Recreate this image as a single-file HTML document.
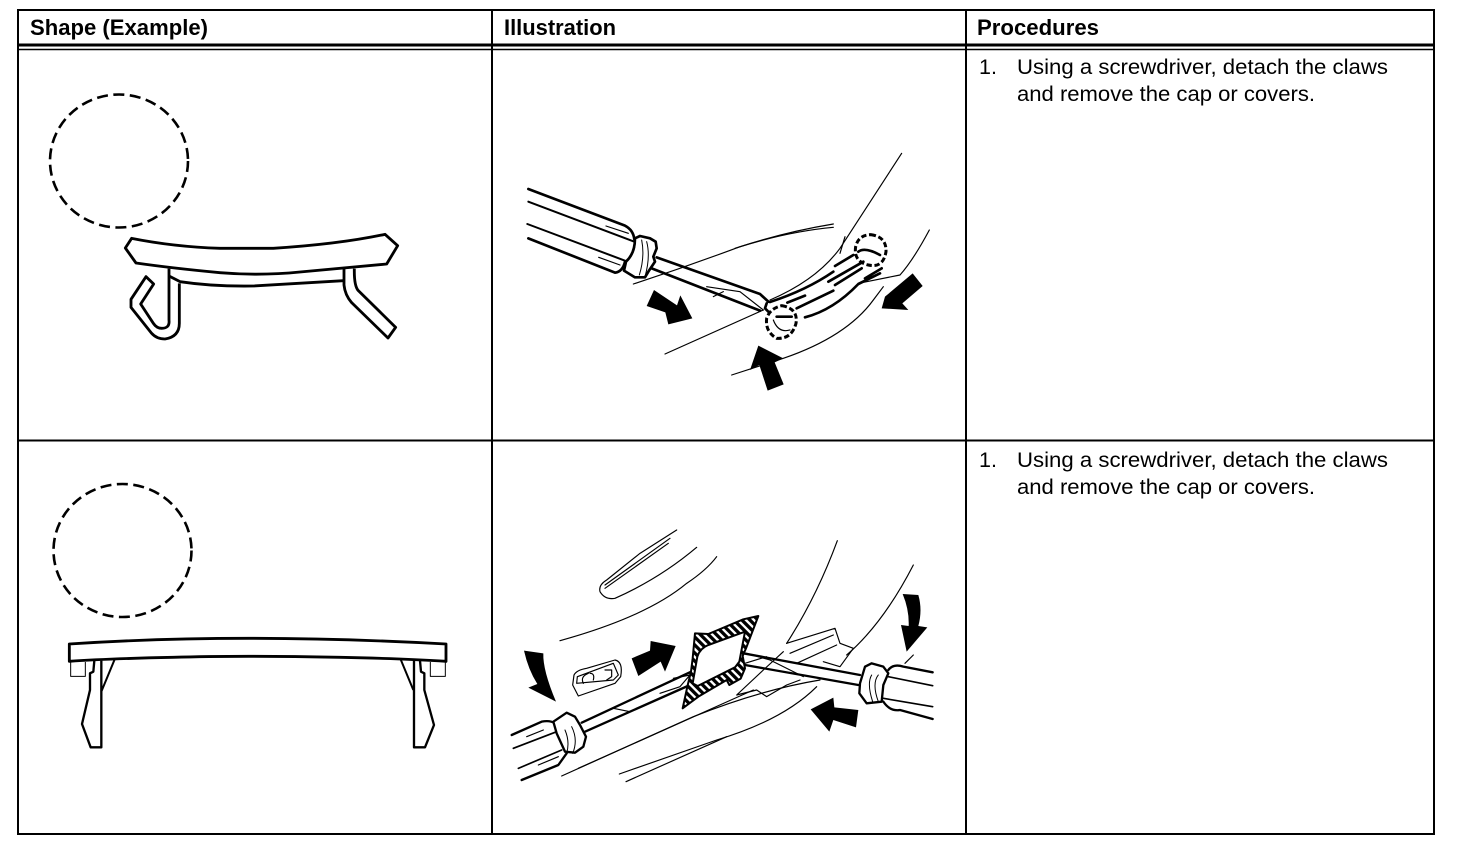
<!DOCTYPE html>
<html><head><meta charset="utf-8"><style>
html,body{margin:0;padding:0;background:#fff}
svg{display:block}
text{font-family:"Liberation Sans",sans-serif;fill:#000}
.h{font-weight:bold;font-size:22px}
.t{font-size:21.5px}
.a{fill:#000;stroke:none}
</style></head><body>
<svg width="1472" height="864" viewBox="0 0 1472 864" xmlns="http://www.w3.org/2000/svg">
<defs>
<pattern id="hatch" width="17" height="17" patternUnits="userSpaceOnUse" patternTransform="rotate(45)">
<rect width="17" height="17" fill="#fff"/>
<rect width="17" height="10" fill="#000"/>
</pattern>
</defs>
<rect width="1472" height="864" fill="#fff"/>
<!-- table -->
<g stroke="#000" fill="none">
<rect x="18" y="10" width="1416" height="824" stroke-width="2"/>
<path d="M18 45H1434" stroke-width="3"/>
<path d="M18 49.5H1434" stroke-width="1.6"/>
<path d="M18 440.5H1434" stroke-width="2"/>
<path d="M492 10V834M966 10V834" stroke-width="2"/>
</g>
<text class="h" x="30" y="35" textLength="178" lengthAdjust="spacingAndGlyphs">Shape (Example)</text>
<text class="h" x="504" y="35" textLength="112" lengthAdjust="spacingAndGlyphs">Illustration</text>
<text class="h" x="977" y="35" textLength="122" lengthAdjust="spacingAndGlyphs">Procedures</text>
<text class="t" x="979" y="74">1.</text>
<text class="t" x="1017" y="74" textLength="371" lengthAdjust="spacingAndGlyphs">Using a screwdriver, detach the claws</text>
<text class="t" x="1017" y="101" textLength="298" lengthAdjust="spacingAndGlyphs">and remove the cap or covers.</text>
<text class="t" x="979" y="467">1.</text>
<text class="t" x="1017" y="467" textLength="371" lengthAdjust="spacingAndGlyphs">Using a screwdriver, detach the claws</text>
<text class="t" x="1017" y="494" textLength="298" lengthAdjust="spacingAndGlyphs">and remove the cap or covers.</text>

<!-- dashed circles -->
<g fill="none" stroke="#000" stroke-width="2.6" stroke-dasharray="11 5.5">
<ellipse cx="119" cy="161" rx="69" ry="66.5"/>
<ellipse cx="122.500" cy="550.500" rx="69" ry="66.500"/>
</g>

<!-- shape 1 -->
<g transform="translate(40,220) scale(.33333)" fill="none" stroke="#000" stroke-width="8.500" stroke-linejoin="round">
<path d="M275 55L256 84L288 129Q400 145 540 158Q660 168 780 156L1040 132L1073 77L1035 43Q900 72 700 85H540Q400 80 275 55Z"/>
<path d="M387 146V300Q390 325 365 325Q350 325 340 310L302 252L341 192L318 170L273 238V262L335 340Q350 357 375 357Q418 350 418 310V190"/>
<path d="M387 168L420 185Q520 200 640 198L910 182"/>
<path d="M912 146V195Q915 225 935 248L1044 354L1067 322L955 212Q942 198 943 146"/>
</g>

<!-- shape 2 -->
<g transform="translate(40,630) scale(.33333)" fill="none" stroke="#000" stroke-linejoin="round">
<path stroke-width="8.500" d="M88 42Q600 8 1218 42V94Q1100 86 900 82Q600 76 400 82Q200 86 88 94Z"/>
<path stroke-width="7" d="M163 92L160 125L150 130V180L126 282L152 352H184V92"/>
<path stroke-width="7" d="M1140 92L1143 125L1153 130V180L1182 285L1155 352H1122V92"/>
<path stroke-width="6" d="M224 88L184 185M1082 88L1120 180"/>
<path stroke-width="3" d="M92 96V139H136V96M1171 96V139H1216V96"/>
</g>

<!-- illustration 1 -->
<g transform="translate(500,140) scale(.33333)" fill="none" stroke="#000" stroke-linejoin="round" stroke-linecap="round">
<g stroke-width="3.500">
<path d="M400 432Q560 380 720 320Q860 275 1000 252"/>
<path d="M705 325Q860 275 1000 262"/>
<path d="M495 642L790 510"/>
<path d="M810 480Q950 420 1020 325L1205 40"/>
<path d="M1020 340L1035 290"/>
<path d="M695 705L850 655Q1040 590 1120 480L1150 440"/>
<path d="M1085 428L1200 405Q1240 360 1288 270"/>
<path d="M318 258L385 280M296 352L360 375"/>
<path d="M620 440L720 455L790 510M670 455L640 470"/>
<path d="M820 540Q835 580 870 570"/>
</g>
<g stroke-width="8">
<path d="M85 147L375 257Q400 270 403 298"/>
<path stroke-width="6" d="M85 185L403 305"/>
<path stroke-width="6" d="M82 252L375 362"/>
<path d="M85 295L345 398Q368 395 375 365"/>
<path fill="#fff" d="M405 295L420 288L450 295L467 305L470 325L460 350L465 365L445 395L435 412L405 412L372 392L378 365Q405 340 405 295Z"/>
<path d="M470 352L780 462L805 485"/>
<path d="M455 385L780 512"/>
<path d="M800 490L795 505L805 515"/>
<path d="M810 486Q920 450 1000 395"/>
<path d="M862 488L915 467M890 505L1000 452M915 532Q1000 510 1075 432L1140 400M1005 378L1060 345M985 425L1090 365M1005 435L1085 385M1095 415L1145 385"/>
<path d="M1075 335Q1095 320 1140 345"/>
<path d="M830 530H875"/>
</g>
<path stroke-width="3" d="M425 300Q435 350 418 405M440 305Q452 350 435 410"/>
<g stroke-width="9" stroke-linecap="butt" stroke-dasharray="16 8">
<path d="M1112 284Q1160 290 1158 335Q1150 385 1105 375Q1060 365 1067 320Q1075 285 1112 284Z"/>
<path d="M845 497Q895 505 888 550Q875 598 830 595Q795 575 800 535Q810 505 845 497Z"/>
</g>
<path class="a" d="M462 450L440 498L496 517L505 553L577 535L541 466L531 496Z"/>
<path class="a" d="M1238 400L1155 470L1145 505L1225 510L1207 490L1268 438Z"/>
<path class="a" d="M775 617L750 690L778 675L803 752L851 733L824 667L850 655Z"/>
</g>

<!-- illustration 2 -->
<g transform="translate(500,520) scale(.33333)" fill="none" stroke="#000" stroke-linejoin="round" stroke-linecap="round">
<g stroke-width="3.500">
<path d="M530 30L420 100L320 180Q295 195 300 215Q315 240 345 235Q480 175 590 82"/>
<path d="M510 55L315 195M505 70L315 205"/>
<path d="M180 362Q440 290 560 190Q620 150 650 110"/>
<path d="M860 370Q950 230 1012 62"/>
<path d="M1040 405Q1150 310 1240 135"/>
<path d="M218 495L222 465Q230 450 260 445L345 420Q370 425 362 470L345 490L235 528Z"/>
<path d="M230 490L232 470L340 430L355 465L340 480Z"/>
<path d="M250 490Q240 470 265 460M280 480Q285 460 270 460M320 480L335 470V450H315"/>
<path d="M860 370L1005 325L1020 370L1060 385L1020 440L970 425"/>
<path d="M870 400L1000 345M890 430L1010 375"/>
<path d="M850 395L790 450L710 525L770 510L800 530L860 495L900 480"/>
<path d="M185 768L580 590Q780 510 960 480"/>
<path d="M235 745L760 510"/>
<path d="M358 762L650 660Q850 600 950 500"/>
<path d="M378 785L680 650"/>
<path d="M740 400L810 420L910 470M735 430L800 410"/>
<path d="M520 475L570 465L540 500L480 520"/>
<path d="M340 565L390 575M80 650L130 630M115 735L175 710"/>
<path d="M1215 430L1240 405"/>
</g>
<g stroke-width="7">
<path d="M35 645L125 605Q150 600 165 610"/>
<path stroke-width="5" d="M40 685L170 635"/>
<path stroke-width="5" d="M55 745L185 690"/>
<path d="M65 780L175 735L200 700"/>
<path fill="#fff" d="M160 605L200 578L225 590L240 615L258 650L250 680L225 698L195 695L170 640Z"/>
<path d="M245 608L580 452"/>
<path d="M255 635L570 495"/>
<path d="M730 400L1080 465"/>
<path d="M735 435L1075 495"/>
<path d="M1165 450Q1180 430 1210 440L1298 457"/>
<path stroke-width="5" d="M1165 470L1298 497"/>
<path stroke-width="5" d="M1150 535L1298 560"/>
<path d="M1150 545Q1170 575 1200 570L1298 597"/>
<path fill="#fff" d="M1080 490L1095 440L1115 430L1150 440L1165 460L1150 495L1145 545L1100 550L1078 520Z"/>
<path stroke-width="3" d="M195 630Q210 665 200 700M215 620Q235 660 218 700M1115 465Q1100 490 1118 545M1135 465Q1115 490 1135 545"/>
</g>
<!-- hatched frame -->
<path fill="url(#hatch)" stroke="#000" stroke-width="6" fill-rule="evenodd" d="M585 340L625 342L730 298L775 288L738 385L728 408L735 445L722 476L688 495L680 480L595 530L548 565L562 500L573 455L578 415Z M592 410L578 490L593 498L705 442L718 425L735 335L625 375Q600 385 592 410Z"/>
<path class="a" d="M72 392L130 400Q128 450 168 545L85 503L112 492Q85 450 72 392Z"/>
<path class="a" d="M1208 222L1255 225Q1268 270 1255 318L1282 322L1220 395L1203 315L1226 318Q1228 270 1208 222Z"/>
<path class="a" d="M395 415L450 392L452 363L527 378L495 455L482 425L415 468Z"/>
<path class="a" d="M932 568L1000 533L1003 562L1075 570L1068 622L1000 600L988 635Z"/>
</g>
</svg>
</body></html>
